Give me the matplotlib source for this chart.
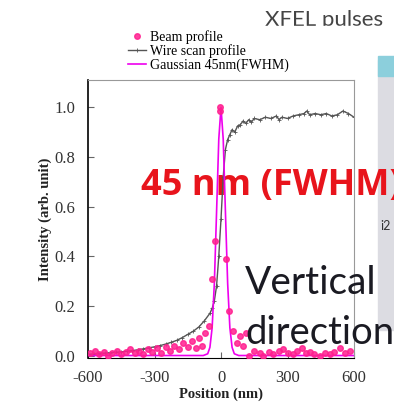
import matplotlib
matplotlib.use("Agg")
import matplotlib.pyplot as plt
from matplotlib.patches import Rectangle

# wire scan profile (gray line)
wire_pos = [-600, -575, -550, -525, -500, -475, -450, -425, -400, -375, -350, -325,
            -300, -275, -250, -225, -200, -175, -150, -125, -100, -75, -50, -40,
            -30, -20, -10, 0, 10, 20, 30, 40, 50, 62, 75, 87, 100, 112, 125, 137,
            150, 175, 200, 225, 250, 262, 275, 300, 325, 350, 375, 387, 400, 425,
            450, 475, 500, 525, 550, 575, 600]
wire_val = [0.005, 0.006, 0.008, 0.010, 0.011, 0.013, 0.015, 0.017, 0.020, 0.023,
            0.027, 0.031, 0.035, 0.040, 0.046, 0.053, 0.061, 0.072, 0.085, 0.098,
            0.115, 0.14, 0.17, 0.19, 0.22, 0.28, 0.40, 0.55, 0.72, 0.83, 0.87,
            0.89, 0.91, 0.90, 0.925, 0.93, 0.945, 0.935, 0.95, 0.94, 0.955, 0.95,
            0.96, 0.955, 0.965, 0.95, 0.96, 0.955, 0.965, 0.97, 0.975, 0.985,
            0.97, 0.975, 0.97, 0.975, 0.965, 0.97, 0.985, 0.975, 0.96]

# beam profile (pink dots)
beam_pos = [-590, -570, -550, -530, -510, -490, -470, -450, -430, -410, -390, -370,
            -350, -330, -310, -290, -270, -250, -230, -210, -190, -170, -150, -130,
            -115, -100, -85, -70, -55, -40, -27, -6, -4, 22, 36, 54, 70, 86, 100,
            113, 125, 150, 175, 190, 215, 235, 260, 280, 300, 325, 345, 365, 385,
            400, 420, 446, 470, 490, 510, 537, 560, 580]
beam_val = [0.01, 0.02, 0.005, 0.015, 0.0, 0.01, 0.02, 0.005, 0.015, 0.025, 0.01,
            0.02, 0.005, 0.025, 0.015, 0.03, 0.01, 0.035, 0.02, 0.04, 0.025, 0.05,
            0.035, 0.06, 0.03, 0.07, 0.04, 0.09, 0.12, 0.31, 0.46, 1.0, 0.985,
            0.39, 0.18, 0.10, 0.05, 0.08, 0.04, 0.09, 0.0, 0.02, 0.01, 0.0, 0.015,
            0.005, 0.02, 0.025, 0.01, 0.005, 0.02, 0.03, 0.01, 0.015, 0.005, 0.0,
            0.01, 0.005, 0.015, 0.03, 0.01, 0.02]

# gaussian fit 45 nm FWHM (magenta line)
gauss_pos = [-600, -80, -60, -50, -40, -30, -20, -10, 0, 10, 20, 30, 40, 50, 60, 80, 600]
gauss_val = [0.0, 0.0, 0.007, 0.033, 0.112, 0.291, 0.578, 0.872, 1.0, 0.872, 0.578,
             0.291, 0.112, 0.033, 0.007, 0.0, 0.0]

xticks = [-600, -300, 0, 300, 600]
yticks = [0.0, 0.2, 0.4, 0.6, 0.8, 1.0]

serif = "Liberation Serif"
W, H = 394, 416

fig = plt.figure(figsize=(W / 100, H / 100), dpi=100)
fig.patch.set_facecolor("white")

# slide background bits on the right (behind everything else)
fig.patches.append(Rectangle((378 / W, 1 - 330 / H), 16 / W, 270 / H,
                             transform=fig.transFigure, color="#dcdce2", zorder=-1))
fig.patches.append(Rectangle((378 / W, 1 - 76 / H), 16 / W, 20 / H,
                             transform=fig.transFigure, color="#8ccfdc", zorder=-1))

ax = fig.add_axes([88 / W, 1 - 358 / H, 266 / W, 278 / H])
ax.plot(gauss_pos, gauss_val, color="#ee00ee", lw=1.2, zorder=3,
        label="Gaussian 45nm(FWHM)")
ax.plot(wire_pos, wire_val, color="#555555", lw=1.0, marker="+", ms=3, mew=0.6,
        zorder=2, label="Wire scan profile")
ax.plot(beam_pos, beam_val, ls="none", marker="o", ms=4, color="#ff1f8f",
        alpha=0.85, zorder=4, label="Beam profile")

ax.set_xlim(-600, 600)
ax.set_ylim(-0.01, 1.11)
ax.set_xticks(xticks)
ax.set_xticklabels([str(t) for t in xticks])
ax.set_yticks(yticks)
ax.set_yticklabels(["%.1f" % t for t in yticks])
ax.tick_params(direction="in", length=4, width=0.8, color="#666666",
               labelsize=12, pad=9)
for lab in ax.get_xticklabels() + ax.get_yticklabels():
    lab.set_family(serif)
    lab.set_color("#333333")

ax.spines["left"].set_color("black")
ax.spines["left"].set_linewidth(1.2)
ax.spines["bottom"].set_color("black")
ax.spines["top"].set_color("#999999")
ax.spines["right"].set_color("#999999")

ax.set_xlabel("Position (nm)", family=serif, fontweight="bold", fontsize=10.5,
              labelpad=1, color="#222222")
ax.set_ylabel("Intensity (arb. unit)", family=serif, fontweight="bold",
              fontsize=10.5, labelpad=2, color="#222222")

handles, labels = ax.get_legend_handles_labels()
order = [2, 1, 0]
leg = fig.legend([handles[i] for i in order], [labels[i] for i in order],
                 loc="upper left", bbox_to_anchor=(128 / W, 1 - 30 / H),
                 frameon=False, prop={"family": serif, "size": 10},
                 handlelength=1.3, handletextpad=0.3, labelspacing=0.05,
                 borderpad=0, borderaxespad=0)

# slide text over the chart; the title is cut off at its lower edge in the slide
fig.text(265 / W, 1 - 20 / H, "XFEL pulses", family="Lato", fontsize=16,
         color="#444444", va="center", ha="left")
fig.patches.append(Rectangle((255 / W, 1 - 31 / H), 139 / W, 5 / H,
                             transform=fig.transFigure, color="white", zorder=5))
# red label sits under the plotted lines, as in the slide
ax.text(141 / W, 1 - 186 / H, "45 nm (FWHM)", family="Open Sans",
        fontweight="bold", fontsize=26, color="#e8141c", va="center", ha="left",
        transform=fig.transFigure, clip_on=False, zorder=1)
fig.text(245 / W, 1 - 283 / H, "Vertical", family="Lato", fontsize=28,
         color="#1a1a22", va="center", ha="left")
fig.text(245 / W, 1 - 333 / H, "direction", family="Lato", fontsize=27.5,
         color="#1a1a22", va="center", ha="left")
fig.text(380 / W, 1 - 226 / H, "i2", family="Lato", fontsize=9,
         color="#333333", va="center", ha="left")

fig.savefig("out.png", dpi=100, facecolor="white")
